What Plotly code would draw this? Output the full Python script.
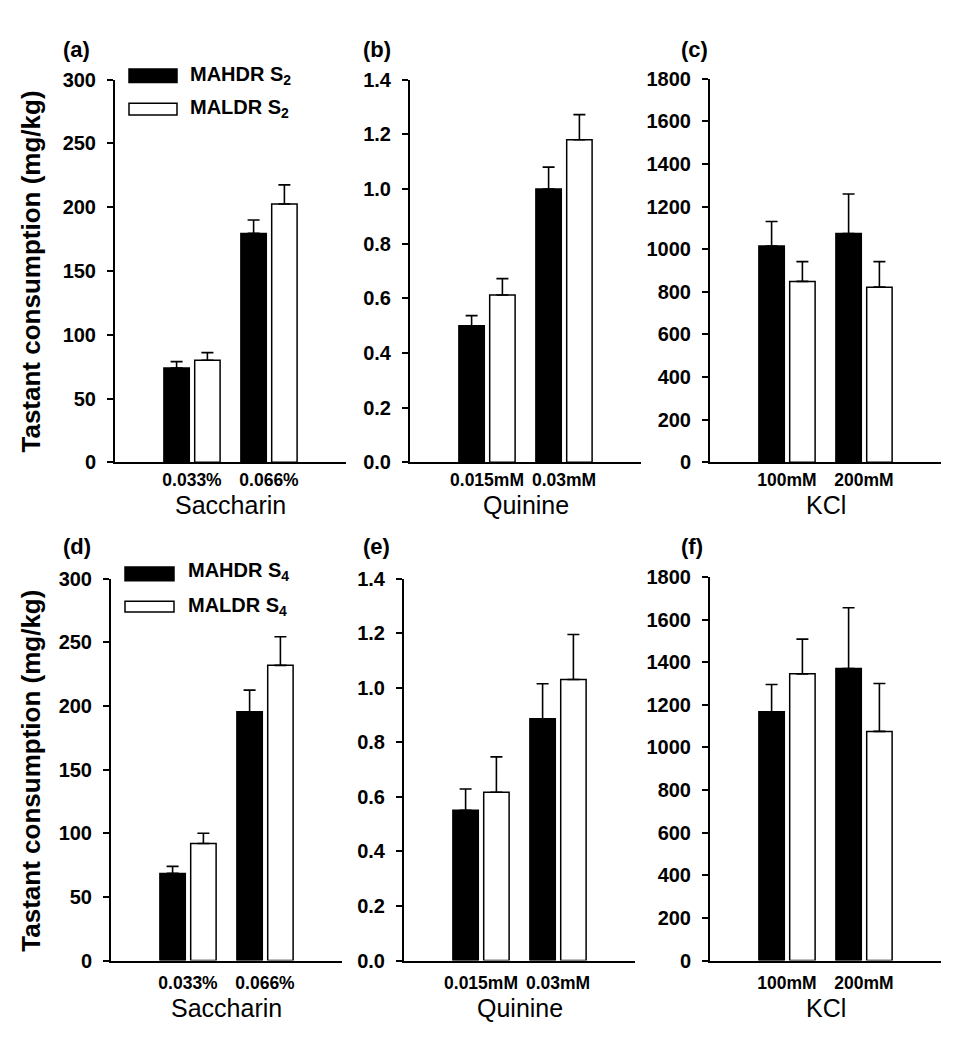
import plotly.graph_objects as go

# The page body keeps the browser's default 8px margin, so the figure is
# sized to the visible area and reference pixel positions are shifted by it.
PAGE_W, PAGE_H, BODY_MARGIN = 957, 1050, 8
W, H = PAGE_W - 2 * BODY_MARGIN, PAGE_H - 2 * BODY_MARGIN

# ---------------- data ----------------
sacch_cats = ["0.033%", "0.066%"]
quin_cats = ["0.015mM", "0.03mM"]
kcl_cats = ["100mM", "200mM"]

# Row 1 (S2)
a_mahdr = [74, 179.5]
a_mahdr_err = [5, 10.5]
a_maldr = [80, 202.5]
a_maldr_err = [6, 15]

b_mahdr = [0.50, 1.00]
b_mahdr_err = [0.037, 0.08]
b_maldr = [0.612, 1.18]
b_maldr_err = [0.06, 0.092]

c_mahdr = [1015, 1074]
c_mahdr_err = [115, 185]
c_maldr = [849, 822]
c_maldr_err = [93, 120]

# Row 2 (S4)
d_mahdr = [68.5, 195.5]
d_mahdr_err = [5.5, 17]
d_maldr = [92, 232]
d_maldr_err = [8, 22.5]

e_mahdr = [0.551, 0.887]
e_mahdr_err = [0.078, 0.128]
e_maldr = [0.617, 1.031]
e_maldr_err = [0.13, 0.165]

f_mahdr = [1167, 1370]
f_mahdr_err = [128, 285]
f_maldr = [1345, 1075]
f_maldr_err = [163, 225]

# ---------------- layout helpers ----------------
FONT = "Liberation Sans, Arial, Helvetica, sans-serif"


def px(x):
    return (x - BODY_MARGIN) / W


def py(y):
    return 1 - (y - BODY_MARGIN) / H


panels = [
    # name, x-domain px, y-domain px (top, bottom), cats, black, black err, white, white err, ymax, dtick, fmt, xtitle
    ("a", (115, 346), (70, 461), sacch_cats, a_mahdr, a_mahdr_err, a_maldr, a_maldr_err, 300, 50, "", "Saccharin"),
    ("b", (410, 641), (70, 461), quin_cats, b_mahdr, b_mahdr_err, b_maldr, b_maldr_err, 1.4, 0.2, ".1f", "Quinine"),
    ("c", (710, 941), (69, 461), kcl_cats, c_mahdr, c_mahdr_err, c_maldr, c_maldr_err, 1800, 200, "", "KCl"),
    ("d", (111, 342), (580, 970), sacch_cats, d_mahdr, d_mahdr_err, d_maldr, d_maldr_err, 300, 50, "", "Saccharin"),
    ("e", (404, 635), (580, 970), quin_cats, e_mahdr, e_mahdr_err, e_maldr, e_maldr_err, 1.4, 0.2, ".1f", "Quinine"),
    ("f", (710, 941), (578, 970), kcl_cats, f_mahdr, f_mahdr_err, f_maldr, f_maldr_err, 1800, 200, "", "KCl"),
]

fig = go.Figure()
layout = dict(
    width=W, height=H,
    margin=dict(l=0, r=0, t=0, b=0),
    paper_bgcolor="white", plot_bgcolor="white",
    showlegend=False, barmode="overlay",
    font=dict(family=FONT, color="black"),
)
annotations = []
shapes = []

BW = 0.33
for i, (name, xd, yd, cats, bv, be, wv, we, ymax, dt, fmt, xtitle) in enumerate(panels):
    n = i + 1
    xa = "x" if n == 1 else f"x{n}"
    ya = "y" if n == 1 else f"y{n}"
    xs = list(range(len(cats)))
    fig.add_trace(go.Bar(
        x=xs, y=bv, xaxis=xa, yaxis=ya, width=BW, offset=-0.365,
        marker=dict(color="black", line=dict(color="black", width=1.5)),
        error_y=dict(type="data", array=be, arrayminus=[0] * len(be), symmetric=False,
                     color="black", thickness=1.6, width=6),
        name="MAHDR",
    ))
    fig.add_trace(go.Bar(
        x=xs, y=wv, xaxis=xa, yaxis=ya, width=BW, offset=0.035,
        marker=dict(color="white", line=dict(color="black", width=1.5)),
        error_y=dict(type="data", array=we, arrayminus=[0] * len(we), symmetric=False,
                     color="black", thickness=1.6, width=6),
        name="MALDR",
    ))
    top_row = i < 3
    nt = int(round(ymax / dt))
    tv = [k * dt for k in range(nt + 1)]
    layout[f"xaxis{'' if n == 1 else n}"] = dict(
        domain=[px(xd[0]), px(xd[1])], anchor=ya, range=[-1, 2],
        tickvals=xs, ticktext=cats, ticks="", showline=True, linewidth=2, linecolor="black",
        showgrid=False, zeroline=False, fixedrange=True,
        ticklabelstandoff=1 if top_row else 5,
        tickfont=dict(size=17.5, family=FONT, weight="bold", color="black"),
    )
    layout[f"yaxis{'' if n == 1 else n}"] = dict(
        domain=[py(yd[1]), py(yd[0])], anchor=xa, range=[0, ymax],
        tickvals=tv, tickformat=fmt, ticks="outside", ticklen=6, tickwidth=1.5, tickcolor="black",
        showline=True, linewidth=2, linecolor="black", showgrid=False, zeroline=False,
        ticklabelstandoff=7, fixedrange=True,
        tickfont=dict(size=20, family=FONT, weight="bold", color="black"),
    )
    # x-axis title
    title_y = 505 if top_row else 1019
    annotations.append(dict(
        text=xtitle, xref="paper", yref="paper", x=px((xd[0] + xd[1]) / 2), y=py(title_y),
        xanchor="center", yanchor="middle", showarrow=False,
        font=dict(size=25, family=FONT, color="black"),
    ))
    # panel letter
    lx = {0: 61, 1: 361, 2: 679}[i % 3]
    ly = 39 if top_row else 547
    annotations.append(dict(
        text=f"({name})", xref="paper", yref="paper", x=px(lx), y=py(ly),
        xanchor="left", yanchor="middle", showarrow=False,
        font=dict(size=22, family=FONT, weight="bold", color="black"),
    ))

# y-axis titles
for yc in (266, 776):
    annotations.append(dict(
        text="Tastant consumption (mg/kg)", xref="paper", yref="paper", x=px(31), y=py(yc),
        xanchor="center", yanchor="middle", textangle=-90, showarrow=False,
        font=dict(size=26, family=FONT, weight="bold", color="black"),
    ))

# legends (key boxes drawn in paper space)
legend_rows = [
    (129, 177, (59, 73), (94, 106), 188, 66, 99, "2"),
    (125, 174, (568, 582), (603, 614), 186, 573, 608, "4"),
]
for x0, x1, bb, wb, tx, ty1, ty2, sub in legend_rows:
    shapes.append(dict(type="rect", xref="paper", yref="paper", x0=px(x0), x1=px(x1),
                       y0=py(bb[1]), y1=py(bb[0]), fillcolor="black", line=dict(color="black", width=1.5)))
    shapes.append(dict(type="rect", xref="paper", yref="paper", x0=px(x0), x1=px(x1),
                       y0=py(wb[1]), y1=py(wb[0]), fillcolor="white", line=dict(color="black", width=1.5)))
    annotations.append(dict(text=f"MAHDR S<sub>{sub}</sub>", xref="paper", yref="paper", x=px(tx), y=py(ty1),
                            xanchor="left", yanchor="middle", showarrow=False,
                            font=dict(size=20, family=FONT, weight="bold", color="black")))
    annotations.append(dict(text=f"MALDR S<sub>{sub}</sub>", xref="paper", yref="paper", x=px(tx), y=py(ty2),
                            xanchor="left", yanchor="middle", showarrow=False,
                            font=dict(size=20, family=FONT, weight="bold", color="black")))

layout["annotations"] = annotations
layout["shapes"] = shapes
fig.update_layout(**layout)
fig.write_html("out.html")
